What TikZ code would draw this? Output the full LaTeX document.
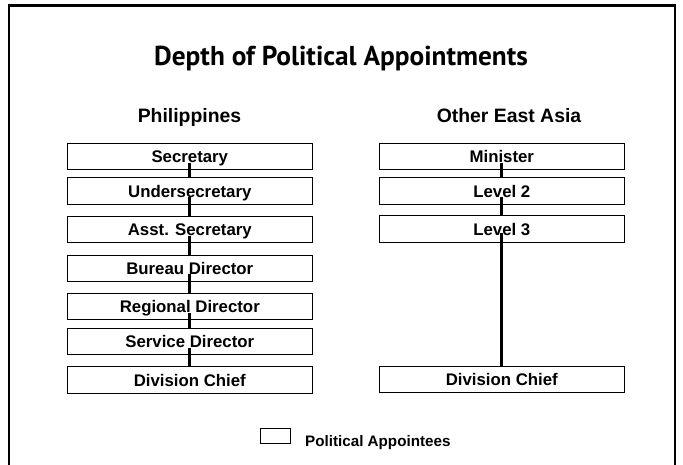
\documentclass[tikz,border=0pt]{standalone}
\usepackage{fontspec}
\setmainfont{Liberation Sans}
\newfontfamily\titlefont{PT Sans}
\usetikzlibrary{positioning}

\tikzset{
  post/.style={draw, line width=1pt, fill=white, minimum width=245pt, minimum height=26.5pt,
    inner sep=0pt, text height=15.5pt, text depth=3.5pt, font=\fontsize{16.8}{18}\selectfont\bfseries},
  link/.style={line width=2.8pt},
  heading/.style={anchor=base, font=\fontsize{19.4}{22}\selectfont\bfseries},
}

\begin{document}
\begin{tikzpicture}[x=1pt, y=-1pt]
    \useasboundingbox (0,0) rectangle (683,464);
    \draw[line width=2.3pt] (9,5.5) rectangle (675,480);

    \node[anchor=base, font=\titlefont\fontsize{27.3}{30}\selectfont\bfseries] (title) at (341,65) {Depth of Political Appointments};
    \node[heading] (phl) at (189.5,122.3) {Philippines};
    \node[heading] (oea) at (509,122.3) {Other East Asia};

    % Philippines
    \node[post] (sec) at (189.8,156.7) {Secretary};
    \node[post] (und) at (189.8,191.2) {Undersecretary};
    \node[post] (asst) at (189.8,229.5) {Asst. Secretary};
    \node[post] (bur) at (189.8,268.3) {Bureau Director};
    \node[post] (reg) at (189.8,306.7) {Regional Director};
    \node[post] (ser) at (189.8,341.7) {Service Director};
    \node[post] (div) at (189.8,380) {Division Chief};

    % Other East Asia
    \node[post] (min) at (501.8,156.7) {Minister};
    \node[post] (lvtwo) at (501.8,191.2) {Level 2};
    \node[post] (lvthree) at (501.8,229.2) {Level 3};
    \node[post] (odiv) at (501.8,379.7) {Division Chief};

    \draw[link] ([yshift=-6pt]sec.center) -- (und.north);
    \draw[link] ([yshift=-6pt]und.center) -- (asst.north);
    \draw[link] ([yshift=-6pt]asst.center) -- (bur.north);
    \draw[link] ([yshift=-6pt]bur.center) -- (reg.north);
    \draw[link] ([yshift=-6pt]reg.center) -- (ser.north);
    \draw[link] ([yshift=-6pt]ser.center) -- (div.north);

    \draw[link] ([yshift=-6pt]min.center) -- (lvtwo.north);
    \draw[link] ([yshift=-6pt]lvtwo.center) -- (lvthree.north);
    \draw[link] ([yshift=-4pt]lvthree.center) -- (odiv.north);

    % legend
    \node[draw, line width=1pt, minimum width=30pt, minimum height=15pt, inner sep=0pt] (key) at (275,435.8) {};
    \node[anchor=base west, inner sep=0pt, font=\fontsize{15.2}{17}\selectfont\bfseries] (keytext) at (305,446.7) {Political Appointees};
\end{tikzpicture}
\end{document}
